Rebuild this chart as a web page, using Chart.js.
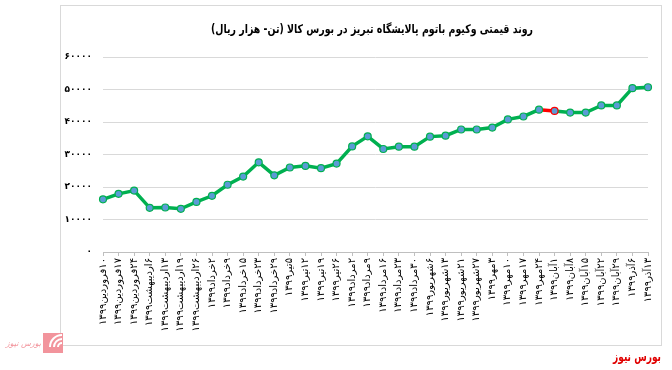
<!DOCTYPE html>
<html>
<head>
<meta charset="utf-8">
<script src="https://cdn.jsdelivr.net/npm/chart.js@4"></script>
<style>
  html, body { margin: 0; padding: 0; background: #fff; }
  canvas { display: block; }
</style>
</head>
<body>
<canvas id="chart" width="672" height="370" dir="rtl"></canvas>
<script>
const dates = [
    '۱۰فروردین۱۳۹۹', '۱۷فروردین۱۳۹۹', '۲۴فروردین۱۳۹۹', '۶اردیبهشت۱۳۹۹', '۱۳اردیبهشت۱۳۹۹', '۱۹اردیبهشت۱۳۹۹',
    '۲۶اردیبهشت۱۳۹۹', '۲خرداد۱۳۹۹', '۹خرداد۱۳۹۹', '۱۵خرداد۱۳۹۹', '۲۳خرداد۱۳۹۹', '۲۹خرداد۱۳۹۹',
    '۵تیر۱۳۹۹', '۱۲تیر۱۳۹۹', '۱۹تیر۱۳۹۹', '۲۶تیر۱۳۹۹', '۲مرداد۱۳۹۹', '۹مرداد۱۳۹۹',
    '۱۶مرداد۱۳۹۹', '۲۳مرداد۱۳۹۹', '۳۰مرداد۱۳۹۹', '۶شهریور۱۳۹۹', '۱۳شهریور۱۳۹۹', '۲۱شهریور۱۳۹۹',
    '۲۷شهریور۱۳۹۹', '۳مهر۱۳۹۹', '۱۰مهر۱۳۹۹', '۱۷مهر۱۳۹۹', '۲۴مهر۱۳۹۹', '۱آبان۱۳۹۹',
    '۸آبان۱۳۹۹', '۱۵آبان۱۳۹۹', '۲۲آبان۱۳۹۹', '۲۹آبان۱۳۹۹', '۶آذر۱۳۹۹', '۱۳آذر۱۳۹۹'
];
const prices = [
    16200, 17900, 18900, 13600, 13700, 13300,
    15400, 17300, 20700, 23200, 27600, 23600,
    26000, 26500, 25800, 27200, 32500, 35600,
    31700, 32400, 32400, 35500, 35800, 37700,
    37700, 38300, 40800, 41700, 43800, 43400,
    42900, 42900, 45100, 45100, 50400, 50700
];
const yTicks = [0, 10000, 20000, 30000, 40000, 50000, 60000];
const yTickLabels = ['۰', '۱۰۰۰۰', '۲۰۰۰۰', '۳۰۰۰۰', '۴۰۰۰۰', '۵۰۰۰۰', '۶۰۰۰۰'];

const title = 'روند قیمتی وکیوم باتوم پالایشگاه تبریز در بورس کالا (تن- هزار ریال)';
const source = 'بورس نیوز';

const green = '#00b050';
const red = '#ff0000';
const redIndex = 29; // the one point drawn in red, with the segment leading to it

const decor = {
    id: 'decor',
    beforeDraw(chart) {
        const ctx = chart.ctx;
        ctx.save();
        ctx.fillStyle = '#fff';
        ctx.fillRect(0, 0, chart.width, chart.height);
        // outer frame
        ctx.strokeStyle = '#d9d9d9';
        ctx.lineWidth = 1;
        ctx.strokeRect(60.5, 5.5, 601, 340);
        // title
        ctx.direction = 'rtl';
        ctx.fillStyle = '#000';
        ctx.font = 'bold 12px "DejaVu Sans"';
        ctx.textAlign = 'center';
        ctx.textBaseline = 'middle';
        ctx.fillText(title, 372, 30, 322);
        // source text
        ctx.fillStyle = '#e00000';
        ctx.font = 'bold 13px "DejaVu Sans"';
        ctx.textAlign = 'right';
        ctx.fillText(source, 661, 358, 48);
        // small logo
        ctx.fillStyle = '#f2949c';
        ctx.fillRect(43, 333, 20, 20);
        ctx.strokeStyle = '#fff';
        ctx.lineWidth = 2;
        for (const r of [4, 8, 12]) {
            ctx.beginPath();
            ctx.arc(62, 347, r, Math.PI, 1.5 * Math.PI);
            ctx.stroke();
        }
        ctx.fillStyle = '#f2949c';
        ctx.font = 'italic 8px "DejaVu Sans"';
        ctx.fillText(source, 41, 344);
        ctx.restore();
    }
};

new Chart(document.getElementById('chart'), {
    type: 'line',
    data: {
        labels: dates,
        datasets: [{
            data: prices,
            borderColor: green,
            borderWidth: 3.5,
            tension: 0,
            pointRadius: 3.5,
            pointBorderWidth: 1.2,
            pointBackgroundColor: '#5b9bd5',
            pointBorderColor: prices.map((v, i) => i === redIndex ? red : green),
            segment: {
                borderColor: c => c.p1DataIndex === redIndex ? red : undefined
            }
        }]
    },
    options: {
        responsive: false,
        animation: false,
        layout: { padding: { left: 60, right: 24, top: 57, bottom: 28 } },
        plugins: { legend: { display: false }, tooltip: { enabled: false } },
        scales: {
            x: {
                grid: { drawOnChartArea: false, drawTicks: true, tickLength: 4, color: '#bfbfbf' },
                border: { display: true, color: '#bfbfbf' },
                ticks: {
                    autoSkip: false,
                    minRotation: 90,
                    maxRotation: 90,
                    padding: 2,
                    color: '#000',
                    font: { family: 'DejaVu Sans', size: 10 }
                },
                afterFit(scale) { scale.height = 90; }
            },
            y: {
                min: 0,
                max: 60000,
                afterBuildTicks(scale) { scale.ticks = yTicks.map(v => ({ value: v })); },
                grid: { color: '#d9d9d9', drawTicks: false },
                border: { display: false },
                ticks: {
                    padding: 11,
                    color: '#000',
                    font: { family: 'DejaVu Sans', size: 9, weight: 'bold' },
                    callback: (v) => yTickLabels[yTicks.indexOf(v)]
                },
                afterFit(scale) { scale.width = 43; }
            }
        }
    },
    plugins: [decor]
});
</script>
</body>
</html>
